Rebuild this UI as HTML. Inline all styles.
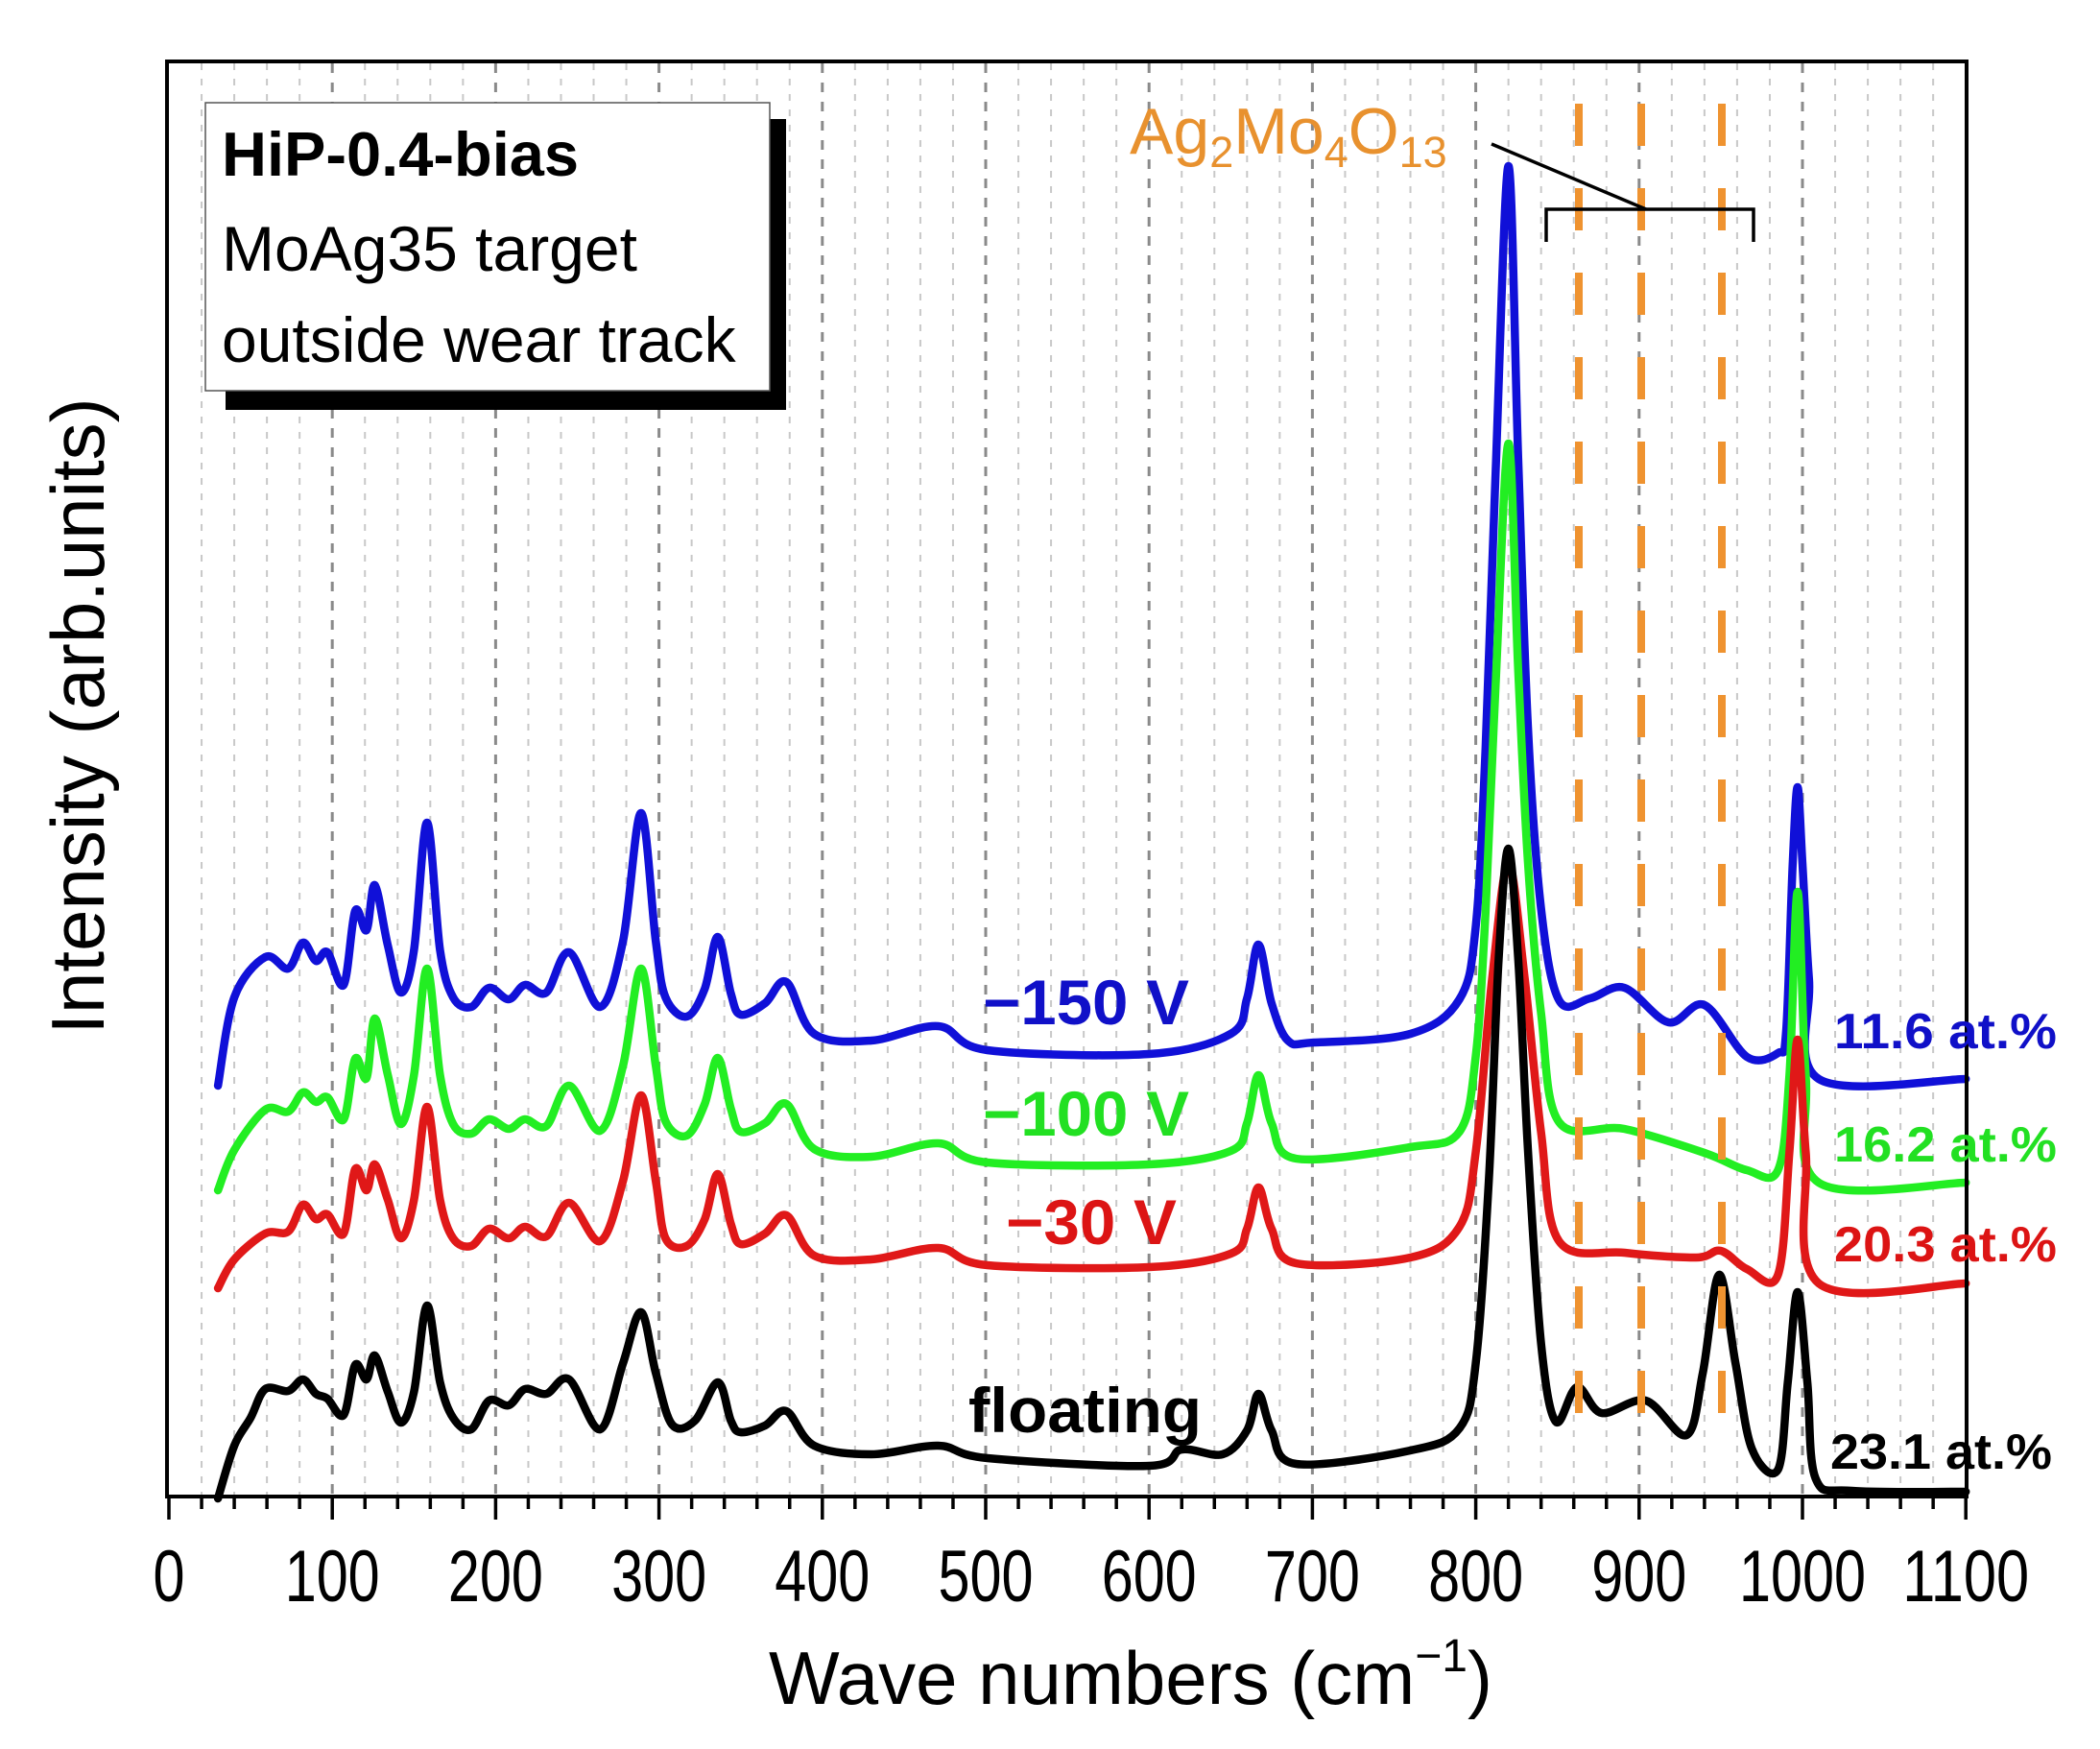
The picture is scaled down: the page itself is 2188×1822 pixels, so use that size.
<!DOCTYPE html>
<html><head><meta charset="utf-8"><style>
html,body{margin:0;padding:0;background:#fff;}
svg{display:block;}
text{font-family:"Liberation Sans",Arial,sans-serif;}
</style></head><body>
<svg id="s" width="2188" height="1822" viewBox="0 0 2188 1822" xmlns="http://www.w3.org/2000/svg">
<rect width="2188" height="1822" fill="#fff"/>
<g id="grid"></g>
<g id="curves" fill="none" stroke-width="8.5" stroke-linejoin="round" stroke-linecap="round"></g>
<g stroke="#ef9330" stroke-width="8" stroke-dasharray="44 44">
<line x1="1645" y1="108" x2="1645" y2="1512"/>
<line x1="1710" y1="108" x2="1710" y2="1512"/>
<line x1="1794" y1="108" x2="1794" y2="1512"/>
</g>
<g stroke="#000" stroke-width="3.5" fill="none">
<polyline points="1611,252 1611,218 1827,218 1827,252"/>
<line x1="1554" y1="150" x2="1715" y2="218"/>
</g>
<text x="1177" y="160" font-size="68" fill="#e8912e">Ag<tspan font-size="45" dy="14">2</tspan><tspan dy="-14">Mo</tspan><tspan font-size="45" dy="14">4</tspan><tspan dy="-14">O</tspan><tspan font-size="45" dy="14">13</tspan></text>
<rect x="235" y="124" width="584" height="303" fill="#000"/>
<rect x="214" y="107" width="588" height="300" fill="#fff" stroke="#555" stroke-width="1.5"/>
<text x="231" y="183" font-size="65" font-weight="bold">HiP-0.4-bias</text>
<text x="231" y="282" font-size="66">MoAg35 target</text>
<text x="231" y="377" font-size="66">outside wear track</text>
<rect x="174" y="64" width="1875" height="1495" fill="none" stroke="#000" stroke-width="4"/>
<g id="ticks" stroke="#000" stroke-width="3.5"></g>
<g id="tl" font-size="76" text-anchor="middle"></g>
<g font-weight="bold" font-size="66">
<text x="1024" y="1067" fill="#1010c8" textLength="215" lengthAdjust="spacingAndGlyphs">−150 V</text>
<text x="1024" y="1183" fill="#22e022" textLength="215" lengthAdjust="spacingAndGlyphs">−100 V</text>
<text x="1048" y="1296" fill="#dc1414" textLength="178" lengthAdjust="spacingAndGlyphs">−30 V</text>
<text x="1009" y="1492" fill="#000" textLength="243" lengthAdjust="spacingAndGlyphs">floating</text>
</g>
<g font-weight="bold" font-size="52">
<text x="1911" y="1092" fill="#1010c8" textLength="232" lengthAdjust="spacingAndGlyphs">11.6 at.%</text>
<text x="1911" y="1210" fill="#22e022" textLength="232" lengthAdjust="spacingAndGlyphs">16.2 at.%</text>
<text x="1911" y="1314" fill="#dc1414" textLength="232" lengthAdjust="spacingAndGlyphs">20.3 at.%</text>
<text x="1907" y="1530" fill="#000" textLength="231" lengthAdjust="spacingAndGlyphs">23.1 at.%</text>
</g>
<text x="801" y="1775" font-size="78">Wave numbers (cm<tspan font-size="48" dy="-34">−1</tspan><tspan dy="34">)</tspan></text>
<text transform="translate(108,746) rotate(-90)" font-size="78" text-anchor="middle">Intensity (arb.units)</text>
</svg>
<script>
var NS="http://www.w3.org/2000/svg";
function X(v){return 176+1.702*v;}
var g=document.getElementById('grid');
for(var v=20;v<1100;v+=20){var l=document.createElementNS(NS,'line');var x=X(v);
l.setAttribute('x1',x);l.setAttribute('x2',x);l.setAttribute('y1',66);l.setAttribute('y2',1557);
var maj=(v%100==0);l.setAttribute('stroke',maj?'#8a8a8a':'#c8c8c8');l.setAttribute('stroke-width',maj?3:2);
l.setAttribute('stroke-dasharray',maj?'10 10':'7 9');g.appendChild(l);}
var t=document.getElementById('ticks'),tl=document.getElementById('tl');
for(var v=0;v<=1100;v+=20){var l=document.createElementNS(NS,'line');var x=X(v);var maj=(v%100==0);
l.setAttribute('x1',x);l.setAttribute('x2',x);l.setAttribute('y1',1559);l.setAttribute('y2',maj?1583:1572);t.appendChild(l);
if(maj){var tx=document.createElementNS(NS,'text');tx.setAttribute('x',x);tx.setAttribute('y',1668);var s=String(v);
tx.setAttribute('textLength',33*s.length);tx.setAttribute('lengthAdjust','spacingAndGlyphs');tx.textContent=s;tl.appendChild(tx);}}
var D={
blue:[[30,1131],[40,1039],[59,997],[73,1009],[82,982],[90,1001],[97,992],[107,1026],[114,949],[121,969],[126,922],[134,985],[142,1034],[150,990],[158,857],[166,990],[174,1039],[185,1049],[196,1029],[208,1041],[218,1026],[231,1034],[245,992],[264,1049],[278,980],[289,847],[298,980],[304,1039],[317,1059],[328,1030],[336,976],[344,1035],[350,1057],[365,1045],[378,1023],[395,1077],[430,1084],[471,1069],[501,1094],[600,1098],[650,1077],[660,1040],[667,984],[675,1045],[685,1084],[701,1086],[760,1077],[790,1041],[800,965],[806,780],[812,500],[820,173],[826,480],[832,760],[840,947],[851,1042],[870,1040],[891,1029],[918,1065],[940,1047],[966,1101],[985,1097],[990,1074],[994,900],[997,820],[1000,900],[1004,1020],[1010,1124],[1100,1124]],
green:[[30,1240],[40,1198],[59,1156],[73,1158],[82,1138],[90,1148],[97,1143],[107,1166],[114,1103],[121,1123],[126,1061],[134,1120],[142,1171],[150,1120],[158,1009],[166,1120],[174,1171],[185,1181],[196,1166],[208,1176],[218,1166],[231,1173],[245,1131],[264,1178],[278,1110],[289,1009],[298,1110],[304,1168],[317,1183],[328,1150],[336,1102],[344,1155],[350,1179],[365,1170],[378,1150],[395,1197],[430,1205],[471,1191],[501,1211],[600,1213],[650,1199],[660,1170],[667,1120],[675,1170],[690,1207],[760,1195],[790,1179],[800,1100],[806,950],[812,720],[820,462],[826,700],[832,900],[840,1056],[851,1169],[891,1176],[940,1201],[966,1219],[985,1219],[992,1120],[997,929],[1002,1120],[1010,1232],[1100,1232]],
red:[[30,1342],[40,1312],[59,1285],[73,1283],[82,1255],[90,1270],[97,1265],[107,1285],[114,1218],[121,1240],[126,1213],[134,1250],[142,1290],[150,1250],[158,1153],[166,1250],[174,1290],[185,1298],[196,1280],[208,1290],[218,1278],[231,1288],[245,1253],[264,1293],[278,1230],[289,1141],[298,1230],[304,1290],[317,1298],[328,1270],[336,1223],[344,1275],[350,1296],[365,1285],[378,1266],[395,1308],[430,1312],[471,1300],[501,1318],[600,1320],[650,1306],[660,1280],[667,1237],[675,1280],[690,1316],[760,1310],[790,1278],[800,1200],[810,1020],[820,900],[830,1020],[840,1180],[851,1293],[891,1305],[935,1310],[950,1303],[966,1322],[985,1328],[992,1200],[997,1083],[1002,1200],[1010,1337],[1100,1337]],
black:[[30,1561],[40,1506],[50,1477],[59,1447],[73,1449],[82,1437],[90,1452],[97,1457],[107,1474],[114,1422],[121,1437],[126,1412],[134,1450],[142,1482],[150,1450],[158,1360],[166,1440],[174,1477],[185,1489],[196,1459],[208,1464],[218,1447],[231,1452],[245,1437],[264,1489],[278,1420],[289,1367],[298,1430],[308,1484],[322,1480],[336,1440],[344,1480],[350,1492],[365,1485],[378,1470],[395,1506],[430,1515],[471,1506],[501,1519],[600,1527],[620,1510],[645,1515],[660,1490],[667,1452],[675,1490],[690,1525],[760,1511],[790,1488],[800,1420],[808,1230],[814,1000],[820,884],[826,1000],[832,1200],[840,1400],[849,1481],[862,1445],[877,1472],[904,1459],[929,1495],[939,1430],[949,1328],[959,1420],[969,1509],[985,1531],[991,1440],[997,1346],[1003,1440],[1008,1540],[1030,1553],[1100,1554]]};
var C={blue:'#1010d8',green:'#22ee22',red:'#e01818',black:'#000'};
var cg=document.getElementById('curves');
['blue','green','red','black'].forEach(function(k){var p=D[k].map(function(a){return [X(a[0]),a[1]];});
var d='M'+p[0][0].toFixed(1)+','+p[0][1];
for(var i=0;i<p.length-1;i++){var p0=p[i>0?i-1:i],p1=p[i],p2=p[i+1],p3=p[i+2<p.length?i+2:i+1];
var c1x=p1[0]+(p2[0]-p0[0])/6,c1y=p1[1]+(p2[1]-p0[1])/6,c2x=p2[0]-(p3[0]-p1[0])/6,c2y=p2[1]-(p3[1]-p1[1])/6;
d+=' C'+c1x.toFixed(1)+','+c1y.toFixed(1)+' '+c2x.toFixed(1)+','+c2y.toFixed(1)+' '+p2[0].toFixed(1)+','+p2[1];}
var e=document.createElementNS(NS,'path');e.setAttribute('d',d);e.setAttribute('stroke',C[k]);cg.appendChild(e);});
</script>
</body></html>
